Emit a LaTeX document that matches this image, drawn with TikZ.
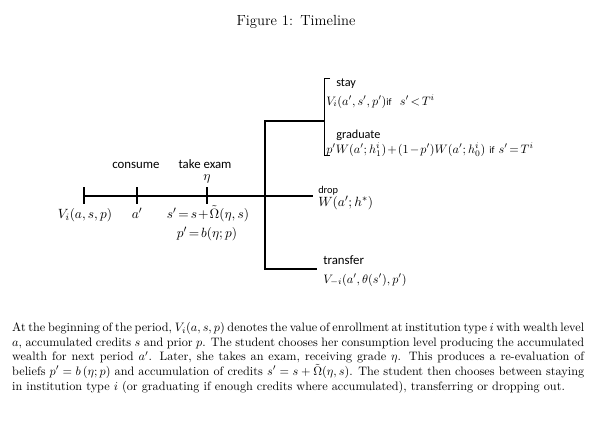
\documentclass[tikz,border=0pt]{standalone}
\usepackage{fontspec}
\usepackage{amsmath}
\newfontfamily\calibri{Carlito}
\newcommand\tightmath{\medmuskip = 1.5mu\relax\thickmuskip = 2.5mu\relax}
\newcommand\shrinkspace{\spaceskip = 3.33pt plus 2pt minus 1.6pt\relax}

\tikzset{
	word/.style = {font = \calibri\fontsize{10.5}{12}\selectfont, inner sep = 0pt},
	small word/.style = {font = \calibri\fontsize{10}{12}\selectfont, inner sep = 0pt},
	formula/.style = {font = \fontsize{11}{13}\selectfont\tightmath, inner sep = 0pt},
	small formula/.style = {formula, font = \fontsize{10}{12}\selectfont\tightmath},
	timeline/.style = {line width = 1.2pt},
}

\begin{document}
\begin{tikzpicture}[x = 0.8183pt, y = -0.8183pt]

\useasboundingbox (0, 0) rectangle (596, 420);

\node [font = \large, anchor = base] (caption) at (296, 26) {Figure 1:\enspace Timeline};

% timeline points
\coordinate (t0) at (84, 196);
\coordinate (t1) at (137, 196);
\coordinate (t2) at (207, 196);
\coordinate (dropend) at (313, 196);
\coordinate (forktop) at (265, 121);
\coordinate (forkbot) at (265, 269);
\coordinate (transend) at (317, 269);
\coordinate (brace) at (324, 121);
\coordinate (bracetop) at (324, 78);
\coordinate (bracebot) at (324, 155);

\draw [timeline] (t0) -- (dropend);
\foreach \t in {t0, t1, t2}
	\draw [timeline] (\t) ++ (0, -9) -- ++ (0, 17);
\draw [timeline] (brace) -- (forktop) -- (forkbot) -- (transend);
\draw [line width = 0.8pt] (bracetop) ++ (6, 0) -- (bracetop) -- (bracebot) -- ++ (6, 0);

% events along the period
\node [word, anchor = base] (consume) at (136, 168) {consume};
\node [word, anchor = base] (exam) at (205, 168) {take exam};
\node [formula, anchor = base] (eta) at (207, 180) {$\eta$};
\node [formula, anchor = base] (value) at (85, 218) {$V_i(a,s,p)$};
\node [formula, anchor = base] (wealth) at (137, 218) {$a'$};
\node [formula, anchor = base] (credits) at (208, 218) {$s' = s + \tilde{\Omega}(\eta,s)$};
\node [formula, anchor = base] (beliefs) at (207, 237) {$p' = b(\eta;p)$};

% choices
\node [small word, anchor = base west] (stay) at (336, 86) {stay};
\node [small formula, anchor = base west] (staywho) at (326, 105) {$V_i(a',s',p')${\calibri\footnotesize if}\ \ $s'<T^i$};
\node [small word, anchor = base west] (grad) at (336, 138) {graduate};
\node [small formula, anchor = base west] (gradwho) at (326, 153)
	{$p'W(a';h_1^i) + (1-p')W(a';h_0^i)$ {\calibri\footnotesize if} $s'=T^i$};
\node [word, font = \calibri\fontsize{8.5}{10}\selectfont, anchor = base west] (drop) at (318, 193) {drop};
\node [formula, anchor = base west] (dropwho) at (318, 206) {$W(a';h^*)$};
\node [word, anchor = base west] (transfer) at (323, 264) {transfer};
\node [small formula, anchor = base west] (transwho) at (323, 283) {$V_{-i}(a',\theta(s'),p')$};

% description
\node [anchor = north west, text width = 468pt, align = justify, inner sep = 0pt, font = \shrinkspace] (text) at (12, 322)
	{At the beginning of the period, $V_i(a,s,p)$ denotes the value of enrollment at institution type $i$ with wealth level\linebreak
	$a$, accumulated credits $s$ and prior $p$. The student chooses her consumption level producing the accumulated\linebreak
	wealth for next period $a'$. Later, she takes an exam, receiving grade $\eta$. This produces a re-evaluation of\linebreak
	beliefs $p' = b\,(\eta;p)$ and accumulation of credits $s' = s + \tilde{\Omega}(\eta,s)$. The student then chooses between staying\linebreak
	in institution type $i$ (or graduating if enough credits where accumulated), transferring or dropping out.};

\end{tikzpicture}
\end{document}
